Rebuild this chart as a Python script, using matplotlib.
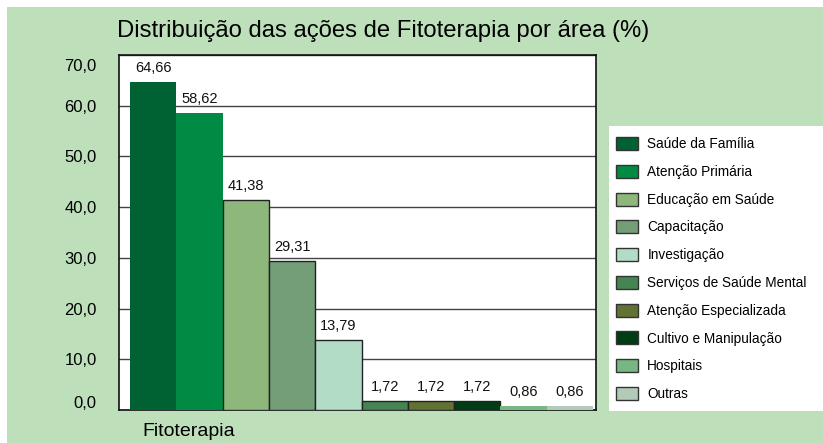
import matplotlib.pyplot as plt
import matplotlib.transforms as mtransforms
from matplotlib.patches import Patch, Rectangle

plt.rcParams['font.family'] = ['Liberation Sans', 'DejaVu Sans']

categories = ['Saúde da Família', 'Atenção Primária', 'Educação em Saúde', 'Capacitação',
              'Investigação', 'Serviços de Saúde Mental', 'Atenção Especializada',
              'Cultivo e Manipulação', 'Hospitais', 'Outras']
values = [64.66, 58.62, 41.38, 29.31, 13.79, 1.72, 1.72, 1.72, 0.86, 0.86]
value_labels = ['64,66', '58,62', '41,38', '29,31', '13,79', '1,72', '1,72', '1,72', '0,86', '0,86']
colors = ['#006133', '#008a43', '#8db77b', '#739e77', '#b3dcc6',
          '#458552', '#617232', '#003d14', '#76b783', '#b2cbb9']
edges = ['none', 'none', '#222222', '#222222', '#222222', '#222222', '#222222', '#222222', 'none', 'none']
yticks = [0, 10, 20, 30, 40, 50, 60, 70]
ytick_labels = ['0,0', '10,0', '20,0', '30,0', '40,0', '50,0', '60,0', '70,0']

W, H = 823, 443
fig = plt.figure(figsize=(W / 100, H / 100), dpi=100, facecolor='white')

# green panel behind everything
fig.patches.append(Rectangle((7 / W, 0), 1 - 7 / W, 1 - 7 / H, transform=fig.transFigure,
                             facecolor='#bde0bb', edgecolor='none', zorder=-10))
# white legend panel
fig.patches.append(Rectangle((609 / W, (H - 411) / H), (W - 609) / W, (411 - 126) / H,
                             transform=fig.transFigure, facecolor='white', edgecolor='none', zorder=-5))

ax = fig.add_axes([119 / W, (H - 410) / H, 477 / W, 355 / H])
ax.set_facecolor('white')

x = list(range(len(values)))
for i in x:
    ax.bar(i, values[i], width=1.0, color=colors[i], edgecolor=edges[i], linewidth=1.0, zorder=3)
    ax.annotate(value_labels[i], (i, values[i]), xytext=(0, 5), textcoords='offset points',
                ha='center', va='bottom', fontsize=10.5, color='#111111', zorder=4)

ax.set_xlim(-0.74, 9.565)
ax.set_ylim(0, 70)
ax.set_yticks(yticks)
ax.set_yticklabels(ytick_labels, fontsize=12)
ax.set_xticks([])
ax.tick_params(axis='y', length=0, pad=16)
ax.yaxis.grid(True, color='#444444', linewidth=1.0, zorder=1)
for s in ax.spines.values():
    s.set_color('#111111')
    s.set_linewidth(1.2)

# nudge the end labels inside, like the original
labs = ax.get_yticklabels()
labs[0].set_transform(labs[0].get_transform() + mtransforms.ScaledTranslation(0, 8 / 100, fig.dpi_scale_trans))
labs[-1].set_transform(labs[-1].get_transform() + mtransforms.ScaledTranslation(0, -10 / 100, fig.dpi_scale_trans))

ax.text(189 / W, (H - 432) / H, 'Fitoterapia', transform=fig.transFigure,
        ha='center', va='center', fontsize=14)
fig.text(383 / W, (H - 31) / H, 'Distribuição das ações de Fitoterapia por área (%)',
         ha='center', va='center', fontsize=17.2)

handles = [Patch(facecolor=c, edgecolor='#333333', linewidth=1.0) for c in colors]
fig.legend(handles, categories, loc='upper left', bbox_to_anchor=(616 / W, (H - 137) / H),
           frameon=False, fontsize=9.8, handlelength=1.6, handleheight=1.1,
           handletextpad=0.7, labelspacing=1.0, borderaxespad=0, borderpad=0)

plt.savefig('out.png', dpi=100, facecolor='white')
